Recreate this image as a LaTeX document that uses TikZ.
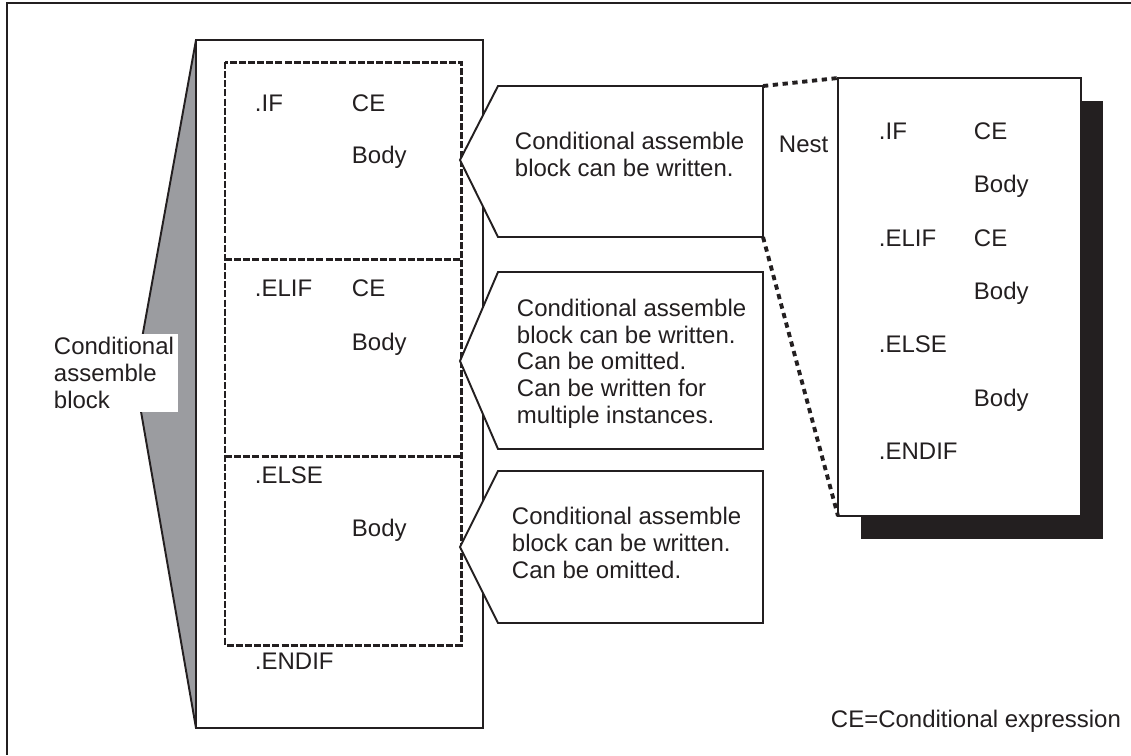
\documentclass[tikz,border=0pt]{standalone}
\usepackage{fontspec}
\setmainfont{Liberation Sans}
\usetikzlibrary{positioning}
\definecolor{blockgray}{RGB}{155,156,160}
\definecolor{ink}{RGB}{35,31,32}

\begin{document}
\begin{tikzpicture}[x=0.02cm, y=-0.02cm, line width=1.1pt, draw=ink,
	txt/.style={font=\fontsize{13.65}{15.1}\selectfont, anchor=base west, inner sep=0pt, align=left, text=ink},
	dashbox/.style={dash pattern=on 4pt off 1.2pt, line width=1.7pt},
	nestline/.style={dash pattern=on 3pt off 2.6pt, line width=2.2pt}]
		\useasboundingbox (0,0) rectangle (1131,755);
		% frame
		\draw[line width=1.6pt] (1131,3) -- (7,3) -- (7,755);

		% block and its wedge
		\filldraw[fill=blockgray] (196,40) -- (135,377) -- (196,728) -- cycle;
		\draw[fill=white] (196,40) rectangle (483,728);
		% base of a multi-line node is its last line
		\node[txt, fill=white, inner sep=0.08cm](lab) at (49,408) {Conditional\\assemble\\block};

		\draw[dashbox] (225,62) rectangle (461,645);
		\draw[dashbox] (225,259) -- (461,259);
		\draw[dashbox] (225,456) -- (461,456);

		\node[txt](if) at (254,111) {.IF};
		\node[txt](ceA) at (351,111) {CE};
		\node[txt](bodyA) at (351,163) {Body};
		\node[txt](elif) at (254,296) {.ELIF};
		\node[txt](ceB) at (351,296) {CE};
		\node[txt](bodyB) at (351,350) {Body};
		\node[txt](else) at (254,483) {.ELSE};
		\node[txt](bodyC) at (351,536) {Body};
		\node[txt](endif) at (254,669) {.ENDIF};

		% callouts
		\draw[fill=white] (460,160) -- (498,86) -- (763,86) coordinate (c1ne)
			-- (763,237) coordinate (c1se) -- (498,237) -- cycle;
		\draw[fill=white] (460,361) -- (498,272) -- (763,272) -- (763,449) -- (498,449) -- cycle;
		\draw[fill=white] (460,547) -- (498,471) -- (763,471) -- (763,623) -- (498,623) -- cycle;
		\node[txt](noteA) at (514,176) {Conditional assemble\\block can be written.};
		\node[txt](noteB) at (516,423) {Conditional assemble\\block can be written.\\Can be omitted.\\Can be written for\\multiple instances.};
		\node[txt](noteC) at (511,578) {Conditional assemble\\block can be written.\\Can be omitted.};

		% nested block
		\fill[ink] (861,101) rectangle (1103,539);
		\draw[fill=white, line width=0.8pt] (838,78) coordinate (nestnw) rectangle (1081,516);
		\coordinate (nestsw) at (838,516);
		\draw[nestline]
		(c1ne) -- (nestnw)
		(c1se) -- (nestsw);
		\node[txt](nest) at (778,152) {Nest};

		\node[txt](nif) at (878,139) {.IF};
		\node[txt](nceA) at (973,139) {CE};
		\node[txt](nbodyA) at (973,192) {Body};
		\node[txt](nelif) at (878,246) {.ELIF};
		\node[txt](nceB) at (973,246) {CE};
		\node[txt](nbodyB) at (973,299) {Body};
		\node[txt](nelse) at (878,352) {.ELSE};
		\node[txt](nbodyC) at (973,406) {Body};
		\node[txt](nendif) at (878,459) {.ENDIF};

		\node[txt](key) at (830,727) {CE=Conditional expression};
\end{tikzpicture}
\end{document}
